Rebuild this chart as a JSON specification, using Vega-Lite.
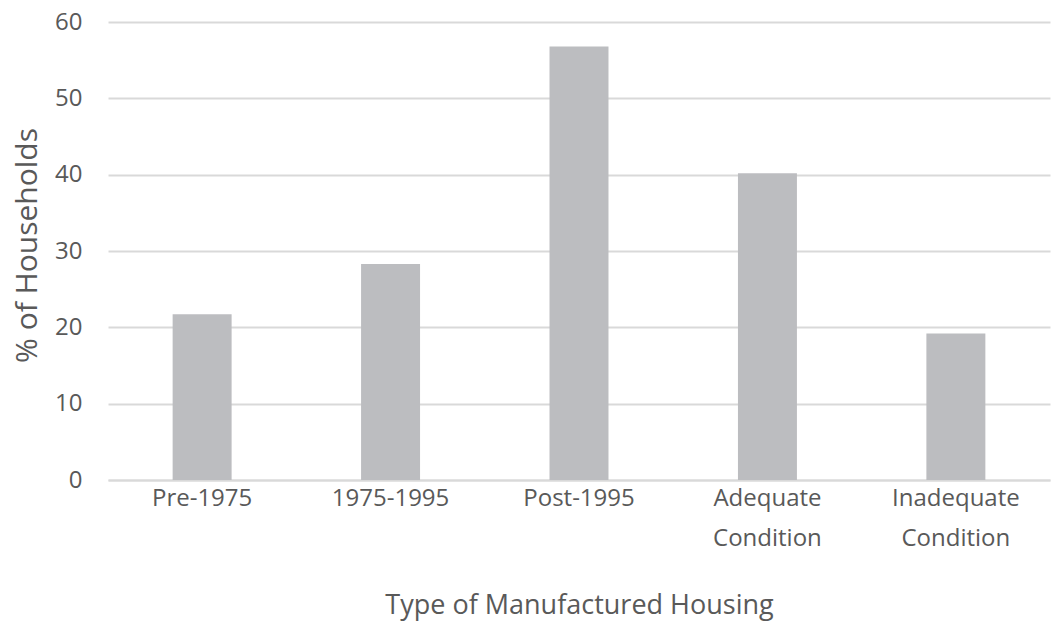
{
  "$schema": "https://vega.github.io/schema/vega-lite/v6.json",
  "width": 942,
  "height": 458,
  "autosize": "none",
  "padding": {"left": 108, "top": 22, "right": 3, "bottom": 155},
  "background": "white",
  "data": {"values": [
    {"type": "Pre-1975", "pct": 21.7},
    {"type": "1975-1995", "pct": 28.3},
    {"type": "Post-1995", "pct": 56.8},
    {"type": "Adequate Condition", "pct": 40.2},
    {"type": "Inadequate Condition", "pct": 19.2}
  ]},
  "mark": {"type": "bar", "color": "#bcbdc0"},
  "encoding": {
    "x": {
      "field": "type", "type": "nominal", "sort": null,
      "scale": {"paddingInner": 0.687, "paddingOuter": 0.343},
      "axis": {
        "title": "Type of Manufactured Housing",
        "labelAngle": 0,
        "labelExpr": "split(datum.value, ' ')",
        "labelFont": "Open Sans", "labelFontSize": 24, "labelColor": "#595959",
        "labelLineHeight": 40, "labelPadding": 6,
        "titleFont": "Open Sans", "titleFontSize": 27, "titleFontWeight": "normal", "titleColor": "#595959",
        "titlePadding": 42,
        "domain": true, "domainColor": "#d9d9d9", "domainWidth": 2,
        "ticks": false, "grid": false
      }
    },
    "y": {
      "field": "pct", "type": "quantitative",
      "scale": {"domain": [0, 60], "nice": false},
      "axis": {
        "title": "% of Households",
        "values": [0, 10, 20, 30, 40, 50, 60],
        "labelFont": "Open Sans", "labelFontSize": 24, "labelColor": "#595959",
        "labelPadding": 26,
        "titleFont": "Open Sans", "titleFontSize": 30, "titleFontWeight": "normal", "titleColor": "#595959",
        "titlePadding": 12,
        "titleY": 223,
        "domain": false, "ticks": false,
        "grid": true, "gridColor": "#d9d9d9", "gridWidth": 2
      }
    }
  },
  "config": {"view": {"stroke": null}}
}
